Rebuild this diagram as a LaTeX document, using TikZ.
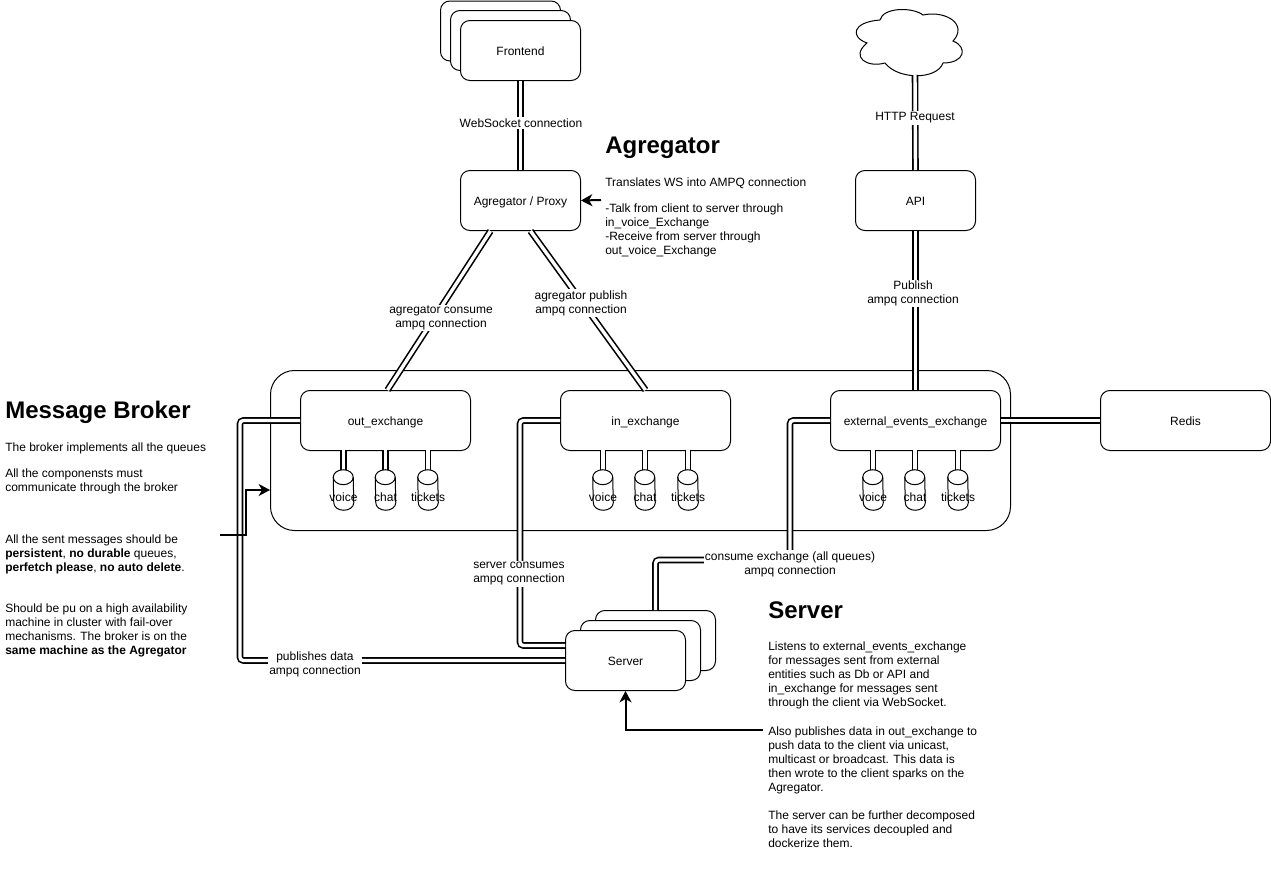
\documentclass[tikz,border=0pt]{standalone}
\usepackage{fontspec}
\setmainfont{Liberation Sans}
\usetikzlibrary{arrows.meta,calc}
\tikzset{
  box/.style={draw=black,line width=0.75pt,fill=white,rounded corners=7pt,inner sep=0pt,text height=9.7pt,text depth=2pt,font=\fontsize{9}{10.5}\selectfont},
  dbl/.style={draw=black,double=white,line width=1.2pt,double distance=2.55pt,rounded corners=2.5pt},
  lbl/.style={fill=white,inner sep=1pt,align=center,font=\fontsize{9}{10.5}\selectfont},
  body/.style={inner sep=0pt,align=left,anchor=north west,font=\fontsize{9}{10.5}\selectfont},
  title/.style={inner sep=0pt,anchor=base west,font=\fontsize{18}{21}\selectfont\bfseries},
  cyltxt/.style={inner sep=0pt,font=\fontsize{9}{10.5}\selectfont},
  cylbase/.style={inner sep=0pt,minimum width=15pt,minimum height=30pt},
  thinarrow/.style={draw=black,line width=1.5pt,-{Stealth[length=8.5pt,width=9pt,inset=2.5pt]}}
}
\newcommand{\cyl}[3]{%
  \node[cylbase] (#1) at (#2,490) {};
  \draw[line width=0.75pt,fill=white] ($(#1.north west)+(0,-5.6pt)$) arc[start angle=180,end angle=0,x radius=7.5pt,y radius=5.6pt]
    -- ($(#1.south east)+(0,5.6pt)$) arc[start angle=0,end angle=-180,x radius=7.5pt,y radius=5.6pt] -- cycle;
  \draw[line width=0.75pt] ($(#1.north west)+(0,-5.6pt)$) arc[start angle=180,end angle=360,x radius=7.5pt,y radius=5.6pt];
  \node[cyltxt] (#1txt) at ($(#1)+(0,7)$) {#3};}
\begin{document}
\begin{tikzpicture}[x=0.75pt,y=-0.75pt]
\useasboundingbox (0,0) rectangle (1271,871);
% broker frame
\node[box,rounded corners=18pt,minimum width=555pt,minimum height=120pt,anchor=north west] (broker) at (270,370) {};
% frontend stack
\node[box,minimum width=90pt,minimum height=45pt,anchor=north west] (frontc) at (440,0.5) {};
\node[box,minimum width=90pt,minimum height=45pt,anchor=north west] (frontb) at (450,10) {};
\node[box,minimum width=90pt,minimum height=45pt,anchor=north west] (front) at (460,20) {Frontend};
% main boxes
\node[box,minimum width=90pt,minimum height=45pt,anchor=north west] (agg) at (460,170) {Agregator / Proxy};
\node[box,minimum width=90pt,minimum height=45pt,anchor=north west] (api) at (855,170) {API};
\node[box,minimum width=127.5pt,minimum height=45pt,anchor=north west] (redis) at (1100,390) {Redis};
\node[box,minimum width=127.5pt,minimum height=45pt,anchor=north west] (outx) at (300,390) {out\_exchange};
\node[box,minimum width=127.5pt,minimum height=45pt,anchor=north west] (inx) at (560,390) {in\_exchange};
\node[box,minimum width=127.5pt,minimum height=45pt,anchor=north west] (extx) at (830,390) {external\_events\_exchange};
% server stack
\node[box,minimum width=90pt,minimum height=45pt,anchor=north west] (servc) at (595,610) {};
\node[box,minimum width=90pt,minimum height=45pt,anchor=north west] (servb) at (580,620) {};
\node[box,minimum width=90pt,minimum height=45pt,anchor=north west] (serv) at (565,630) {Server};
% cloud
\node[inner sep=0pt,minimum width=81pt,minimum height=51pt] (cloud) at (910,42) {};
\coordinate (cloudb) at (915,75);
\draw[line width=0.75pt,fill=white] (880,20) .. controls (883,7) and (913,7) .. (923,15)
  .. controls (947,10) and (968,25) .. (953,41) .. controls (968,47) and (965,63) .. (943,63)
  .. controls (937,80) and (898,80) .. (885,63) .. controls (867,68) and (850,57) .. (867,43)
  .. controls (850,37) and (852,22) .. (880,20) -- cycle;
% double connectors
\draw[dbl] (front.south) -- (agg.north);
\draw[dbl] ($(agg.south)+(-30,0)$) -- ($(outx.north)+(2,0)$);
\draw[dbl] ($(agg.south)+(10,0)$) -- ($(inx.north)+(0,0)$);
\draw[dbl] (cloudb) -- (api.north);
\draw[dbl] (api.south) -- (extx.north);
\draw[dbl] (extx.east) -- (redis.west);
\draw[dbl] (outx.west) -- ($(outx.west)+(-60,0)$) -- ($(outx.west)+(-60,240)$) -- (serv.west);
\draw[dbl] (inx.west) -- ($(inx.west)+(-40,0)$) -- ($(inx.west)+(-40,225)$) -- ($(serv.west)+(0,-15)$);
\draw[dbl] (extx.west) -- ($(extx.west)+(-40,0)$) |- ($(servc.north)+(0,-50)$) -- (servc.north);
% queues
\foreach \n/\x in {a/343.5,b/385.5,c/428,d/603,e/645,f/688,g/873,h/915,i/958}{
  \coordinate (q\n) at (\x,450);
  \coordinate (r\n) at (\x,470);
  \draw[dbl] (q\n) -- (r\n);
}
\cyl{qav}{343.5}{voice}
\cyl{qac}{385.5}{chat}
\cyl{qat}{428}{tickets}
\cyl{qbv}{603}{voice}
\cyl{qbc}{645}{chat}
\cyl{qbt}{688}{tickets}
\cyl{qcv}{873}{voice}
\cyl{qcc}{915}{chat}
\cyl{qct}{958}{tickets}
% single arrows
\coordinate (aggtxt) at (601,200);
\draw[thinarrow] (aggtxt) -- (agg.east);
\coordinate (brk) at (220,535);
\draw[thinarrow] (brk) -- (246,535) -- (246,490) -- (broker.west |- 0,490);
\coordinate (srv) at (763,730);
\draw[thinarrow] (srv) -| (serv.south);
% connector labels
\node[lbl] (l1) at (521,123) {WebSocket connection};
\node[lbl] (l2) at (441,318) {agregator consume\\ampq connection};
\node[lbl] (l3) at (581,303) {agregator publish\\ampq connection};
\node[lbl] (l4) at (915,118) {HTTP Request};
\node[lbl] (l5) at (913,293.5) {Publish\\ampq connection};
\node[lbl] (l6) at (519,574) {server consumes\\ampq connection};
\node[lbl] (l7) at (315,664) {publishes data\\ampq connection};
\node[lbl] (l8) at (790,564) {consume exchange (all queues)\\ampq connection};
% headings and notes
\node[title] (t1) at (605,153) {Agregator};
\node[body] (n1) at (605,178) {Translates WS into AMPQ connection};
\node[body] (n2) at (605,204) {-Talk from client to server through\\in\_voice\_Exchange\\-Receive from server through\\out\_voice\_Exchange};
\node[title] (t2) at (5,418) {Message Broker};
\node[body] (n3) at (5,443) {The broker implements all the queues};
\node[body] (n4) at (5,469) {All the componensts must\\communicate through the broker};
\node[body] (n5) at (5,535) {All the sent messages should be\\\textbf{persistent}, \textbf{no durable} queues,\\\textbf{perfetch please}, \textbf{no auto delete}.};
\node[body] (n6) at (5,604) {Should be pu on a high availability\\machine in cluster with fail-over\\mechanisms. The broker is on the\\\textbf{same machine as the Agregator}};
\node[title] (t3) at (768,618) {Server};
\node[body] (n7) at (768,642) {Listens to external\_events\_exchange\\for messages sent from external\\entities such as Db or API and\\in\_exchange for messages sent\\through the client via WebSocket.\\[11.2pt]Also publishes data in out\_exchange to\\push data to the client via unicast,\\multicast or broadcast. This data is\\then wrote to the client sparks on the\\Agregator.\\[10.5pt]The server can be further decomposed\\to have its services decoupled and\\dockerize them.};
\end{tikzpicture}
\end{document}
